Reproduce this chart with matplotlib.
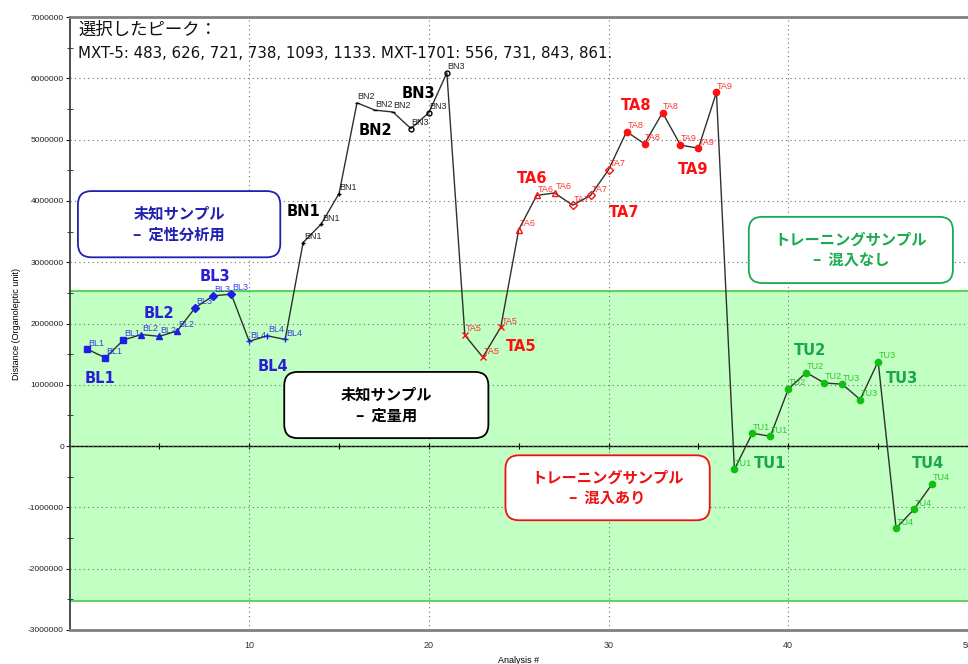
import numpy as np
import matplotlib
import matplotlib.pyplot as plt
from matplotlib.patches import FancyBboxPatch
from matplotlib.ticker import FormatStrFormatter, MultipleLocator
matplotlib.use('Agg')

plt.rcParams['font.family'] = ['DejaVu Sans', 'Noto Sans CJK JP']

# distance per analysis, three replicates per sample group, in run order
bl_groups = ['BL1', 'BL2', 'BL3', 'BL4']
bl_values = [1580000, 1440000, 1730000, 1820000, 1790000, 1880000,
             2260000, 2450000, 2480000, 1710000, 1800000, 1740000]
bn_groups = ['BN1', 'BN2', 'BN3']
bn_values = [3320000, 3620000, 4120000, 5600000, 5480000, 5450000,
             5180000, 5440000, 6090000]
ta_groups = ['TA5', 'TA6', 'TA7', 'TA8', 'TA9']
ta_values = [1810000, 1450000, 1940000, 3530000, 4090000, 4130000,
             3930000, 4090000, 4510000, 5130000, 4930000, 5440000,
             4910000, 4860000, 5770000]
tu_groups = ['TU1', 'TU2', 'TU3', 'TU4']
tu_values = [-380000, 210000, 160000, 930000, 1200000, 1030000,
             1010000, 760000, 1380000, -1340000, -1030000, -620000]

band_limit = 2530000

peaks_title = '選択したピーク：'
peaks_text = 'MXT-5: 483, 626, 721, 738, 1093, 1133. MXT-1701: 556, 731, 843, 861.'

# series: groups, values, colour of marks, colour of group labels
series = [
    (bl_groups, bl_values, '#1e1ee6', '#2a1fd6'),
    (bn_groups, bn_values, '#000000', '#000000'),
    (ta_groups, ta_values, '#ff1010', '#ff1010'),
    (tu_groups, tu_values, '#10c010', '#1aa64a'),
]

markers = {
    'BL1': ('s', True), 'BL2': ('^', True), 'BL3': ('D', True), 'BL4': ('+', True),
    'BN1': ('+', True), 'BN2': ('_', True), 'BN3': ('o', False),
    'TA5': ('x', True), 'TA6': ('^', False), 'TA7': ('D', False),
    'TA8': ('o', True), 'TA9': ('o', True),
    'TU1': ('o', True), 'TU2': ('o', True), 'TU3': ('o', True), 'TU4': ('o', True),
}

group_label_pos = {
    'BL1': (1.7, 1110000), 'BL2': (5.0, 2170000), 'BL3': (8.1, 2760000),
    'BL4': (11.3, 1300000),
    'BN1': (13.0, 3820000), 'BN2': (17.05, 5150000), 'BN3': (19.4, 5760000),
    'TA5': (25.15, 1630000), 'TA6': (25.75, 4360000), 'TA7': (30.85, 3810000),
    'TA8': (31.55, 5550000), 'TA9': (34.7, 4520000),
    'TU1': (39.0, -280000), 'TU2': (41.2, 1560000), 'TU3': (46.35, 1110000),
    'TU4': (47.75, -280000),
}

# category boxes: text, colour, (x0, y0, width, height) in data units
boxes = [
    ('未知サンプル\n–  定性分析用', '#2020b0', (0.47, 3080000, 11.26, 1080000)),
    ('未知サンプル\n–  定量用', '#000000', (11.95, 130000, 11.36, 1080000)),
    ('トレーニングサンプル\n–  混入あり', '#ee1111', (24.26, -1210000, 11.37, 1060000)),
    ('トレーニングサンプル\n–  混入なし', '#1aaa50', (37.8, 2660000, 11.36, 1080000)),
]

fig = plt.figure(figsize=(9.68, 6.64), dpi=100)
ax = fig.add_axes([69.5 / 968, 34 / 664, 898.5 / 968, 613 / 664])
ax.set_xlim(0, 50)
ax.set_ylim(-3000000, 7000000)

# acceptance band
ax.axhspan(-band_limit, band_limit, facecolor='#c2ffc2', edgecolor='none', zorder=0)
for lim in (-band_limit, band_limit):
    ax.axhline(lim, color='#44cc44', lw=1.2, zorder=1)

ax.set_xticks([10, 20, 30, 40, 50])
ax.yaxis.set_major_locator(MultipleLocator(1000000))
ax.yaxis.set_minor_locator(MultipleLocator(500000))
ax.yaxis.set_major_formatter(FormatStrFormatter('%d'))
ax.grid(True, which='major', color='#707070', linestyle=(0, (1, 3)), lw=0.8, zorder=1)
ax.set_axisbelow(True)

ax.tick_params(axis='y', which='major', direction='out', length=3, labelsize=6,
               colors='#202020', pad=1)
ax.tick_params(axis='y', which='minor', direction='inout', length=4, color='#202020')
ax.tick_params(axis='x', length=0, labelsize=6.5, pad=8, colors='#303030')
for lbl in ax.get_xticklabels() + ax.get_yticklabels():
    lbl.set_family('Liberation Sans')

for side in ('top', 'bottom'):
    ax.spines[side].set_color('#808080')
    ax.spines[side].set_linewidth(2)
ax.spines['left'].set_color('#303030')
ax.spines['left'].set_linewidth(1.2)
ax.spines['right'].set_visible(False)

ax.set_xlabel('Analysis #', fontsize=6.5, family='Liberation Sans', labelpad=4)
ax.set_ylabel('Distance (Organoleptic unit)', fontsize=6.5, family='Liberation Sans',
              labelpad=5)

# zero line with its own ticks
zero_axis = ax.secondary_xaxis(0, transform=ax.transData)
zero_axis.set_xticks(np.arange(5, 50, 5))
zero_axis.set_xticklabels([])
zero_axis.tick_params(direction='inout', length=5, width=0.8, color='#000000')
zero_axis.spines['bottom'].set_color('#000000')
zero_axis.spines['bottom'].set_linewidth(1)

all_values = bl_values + bn_values + ta_values + tu_values
analysis = np.arange(1, len(all_values) + 1)
ax.plot(analysis, all_values, color='#303030', lw=1, zorder=3)

start = 1
for groups, values, color, label_color in series:
    for gi, name in enumerate(groups):
        xs = analysis[start - 1 + gi * 3: start - 1 + gi * 3 + 3]
        ys = values[gi * 3: gi * 3 + 3]
        marker, filled = markers[name]
        size = 4.5 if name[:2] != 'BN' else 3.5
        ax.plot(xs, ys, linestyle='none', marker=marker, markersize=size,
                color=color, markerfacecolor=color if filled else 'none',
                markeredgewidth=1, zorder=4)
        for x, y in zip(xs, ys):
            ax.annotate(name, (x, y), xytext=(0.5, 1.2), textcoords='offset points',
                        fontsize=6.5, family='Liberation Sans', color=color,
                        alpha=0.85, ha='left', va='bottom', zorder=4)
        gx, gy = group_label_pos[name]
        ax.text(gx, gy, name, fontsize=10.5, fontweight='bold', color=label_color,
                ha='center', va='center', zorder=6)
    start += len(values)

# aspect correction so corner rounding is circular on screen
aspect = (10000000 / 613) / (50 / 898.5)
for text, color, (x0, y0, w, h) in boxes:
    patch = FancyBboxPatch((x0, y0), w, h, boxstyle='round,pad=0,rounding_size=0.75',
                           mutation_aspect=aspect, facecolor='white', edgecolor=color,
                           lw=1.3, zorder=7)
    ax.add_patch(patch)
    ax.text(x0 + w / 2, y0 + h / 2, text, color=color, fontsize=11,
            fontweight='bold', family=['Noto Sans CJK JP', 'DejaVu Sans'],
            ha='center', va='center', linespacing=1.4, zorder=8)

ax.text(0.0095, 0.979, peaks_title, transform=ax.transAxes, fontsize=12.5,
        family=['Noto Sans CJK JP', 'DejaVu Sans'], color='#101010',
        ha='left', va='center', zorder=8)
ax.text(0.0095, 0.941, peaks_text, transform=ax.transAxes, fontsize=10.8,
        family='DejaVu Sans', color='#101010',
        ha='left', va='center', zorder=8)

fig.savefig('out.png', dpi=100)
